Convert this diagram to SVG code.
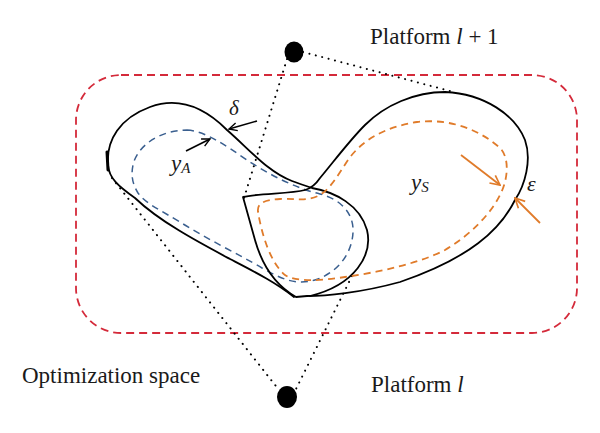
<svg xmlns="http://www.w3.org/2000/svg" width="600" height="433" viewBox="0 0 600 433">
  <style>
    .txt { font-family: "Liberation Serif", "DejaVu Serif", serif; font-size: 23px; fill: #1a1a1a; }
    .math { font-family: "Liberation Serif", "DejaVu Serif", serif; font-style: italic; fill: #1a1a1a; }
    .outline { fill: none; stroke: #000; stroke-width: 1.8; stroke-linejoin: round; stroke-linecap: round; }
    .red { fill: none; stroke: #d42a3a; stroke-width: 1.8; stroke-dasharray: 8 5; }
    .blue { fill: none; stroke: #3a5f8f; stroke-width: 1.5; stroke-dasharray: 7 5; }
    .orange { fill: none; stroke: #e07b2a; stroke-width: 1.8; stroke-dasharray: 7 5; }
    .dotted { fill: none; stroke: #000; stroke-width: 2; stroke-dasharray: 0.1 6.5; stroke-linecap: round; }
    .arrow-k { fill: none; stroke: #000; stroke-width: 1.6; }
    .arrow-o { fill: none; stroke: #e07b2a; stroke-width: 1.8; }
  </style>
  <defs>
    <marker id="headK" viewBox="0 0 10 10" refX="9" refY="5" markerWidth="10" markerHeight="10" markerUnits="userSpaceOnUse" orient="auto">
      <path d="M1,1 L9,5 L1,9" fill="none" stroke="#000" stroke-width="1.4"/>
    </marker>
    <marker id="headO" viewBox="0 0 10 10" refX="9" refY="5" markerWidth="12" markerHeight="12" markerUnits="userSpaceOnUse" orient="auto">
      <path d="M1,1 L9,5 L1,9" fill="none" stroke="#e07b2a" stroke-width="1.4"/>
    </marker>
  </defs>

  <rect width="600" height="433" fill="#fff"/>

  <!-- Optimization space frame -->
  <g id="optimization-space">
    <rect class="red" x="76" y="75" width="501" height="258" rx="45" ry="45"/>
    <text class="txt" x="22" y="383">Optimization space</text>
  </g>

  <!-- Connectors (dotted projections) -->
  <g id="connectors">
    <line class="dotted" x1="287" y1="59" x2="244" y2="198"/>
    <line class="dotted" x1="303" y1="52" x2="450" y2="91"/>
    <line class="dotted" x1="112" y1="178" x2="279" y2="390"/>
    <line class="dotted" x1="352" y1="276" x2="296" y2="389"/>
  </g>

  <!-- Region y_A (left bean shape) -->
  <g id="region-A">
    <path class="outline" d="M294,297 C275,282 255,272 230,259 C200,243 160,222 135,198 C118,186 109,178 108,165 C106,140 120,118 150,107 C180,96 205,108 227,130 C250,150 268,172 292,181 C300,184 306,186 312,188 C335,192 360,205 367,230 C373,255 355,285 310,296"/>
    <path d="M107,152 L108,170" stroke="#000" stroke-width="3" fill="none" stroke-linecap="round"/>
    <path class="blue" d="M187,130 C205,131 225,145 247,160 C270,175 295,188 320,194 C340,199 352,212 353,228 C354,250 340,272 315,280 C295,286 280,278 262,268 C240,255 205,238 180,222 C160,210 145,203 138,193 C132,183 131,175 133,165 C137,146 160,130 187,130 Z"/>
    <text class="math" x="171" y="171" font-size="23">y<tspan font-size="15" dy="2">A</tspan></text>
  </g>

  <!-- Region y_S (right blob shape) -->
  <g id="region-S">
    <path class="outline" d="M243,197 C260,193 290,194 305,190 C312,188 316,184 320,178 C335,160 350,140 365,125 C385,105 415,92 445,92 C485,94 515,115 525,140 C532,160 525,185 515,200 C500,230 470,258 400,282 C360,293 325,296 307,296 L296,297 C275,285 262,265 255,240 C250,222 246,208 243,197 Z"/>
    <path class="orange" d="M258,212 C257,204 262,200 280,199 C295,198 305,202 318,196 C330,190 338,175 348,160 C362,140 385,127 417,122 C450,118 480,130 500,148 C510,158 508,180 500,195 C490,215 470,235 445,250 C420,263 380,272 345,277 C320,281 295,282 285,275 C270,262 262,235 258,212 Z"/>
    <text class="math" x="411" y="190" font-size="23">y<tspan font-size="15" dy="2">S</tspan></text>
  </g>

  <!-- Platform l + 1 -->
  <g id="platform-top">
    <ellipse cx="294" cy="52" rx="9.5" ry="10.5" fill="#000"/>
    <text class="txt" x="370" y="44">Platform <tspan font-style="italic">l</tspan> + 1</text>
  </g>

  <!-- Platform l -->
  <g id="platform-bottom">
    <ellipse cx="287" cy="397" rx="10" ry="11" fill="#000"/>
    <text class="txt" x="371" y="392">Platform <tspan font-style="italic">l</tspan></text>
  </g>

  <!-- Annotation arrows -->
  <g id="annotations">
    <line class="arrow-k" x1="257" y1="121" x2="229" y2="129" marker-end="url(#headK)"/>
    <text class="math" x="229" y="115" font-size="21">δ</text>
    <line class="arrow-k" x1="186" y1="151" x2="210" y2="139" marker-end="url(#headK)"/>
    <line class="arrow-o" x1="461" y1="155" x2="500" y2="185" marker-end="url(#headO)"/>
    <line class="arrow-o" x1="540" y1="223" x2="515" y2="198" marker-end="url(#headO)"/>
    <text class="math" x="527" y="191" font-size="22">ε</text>
  </g>
</svg>
